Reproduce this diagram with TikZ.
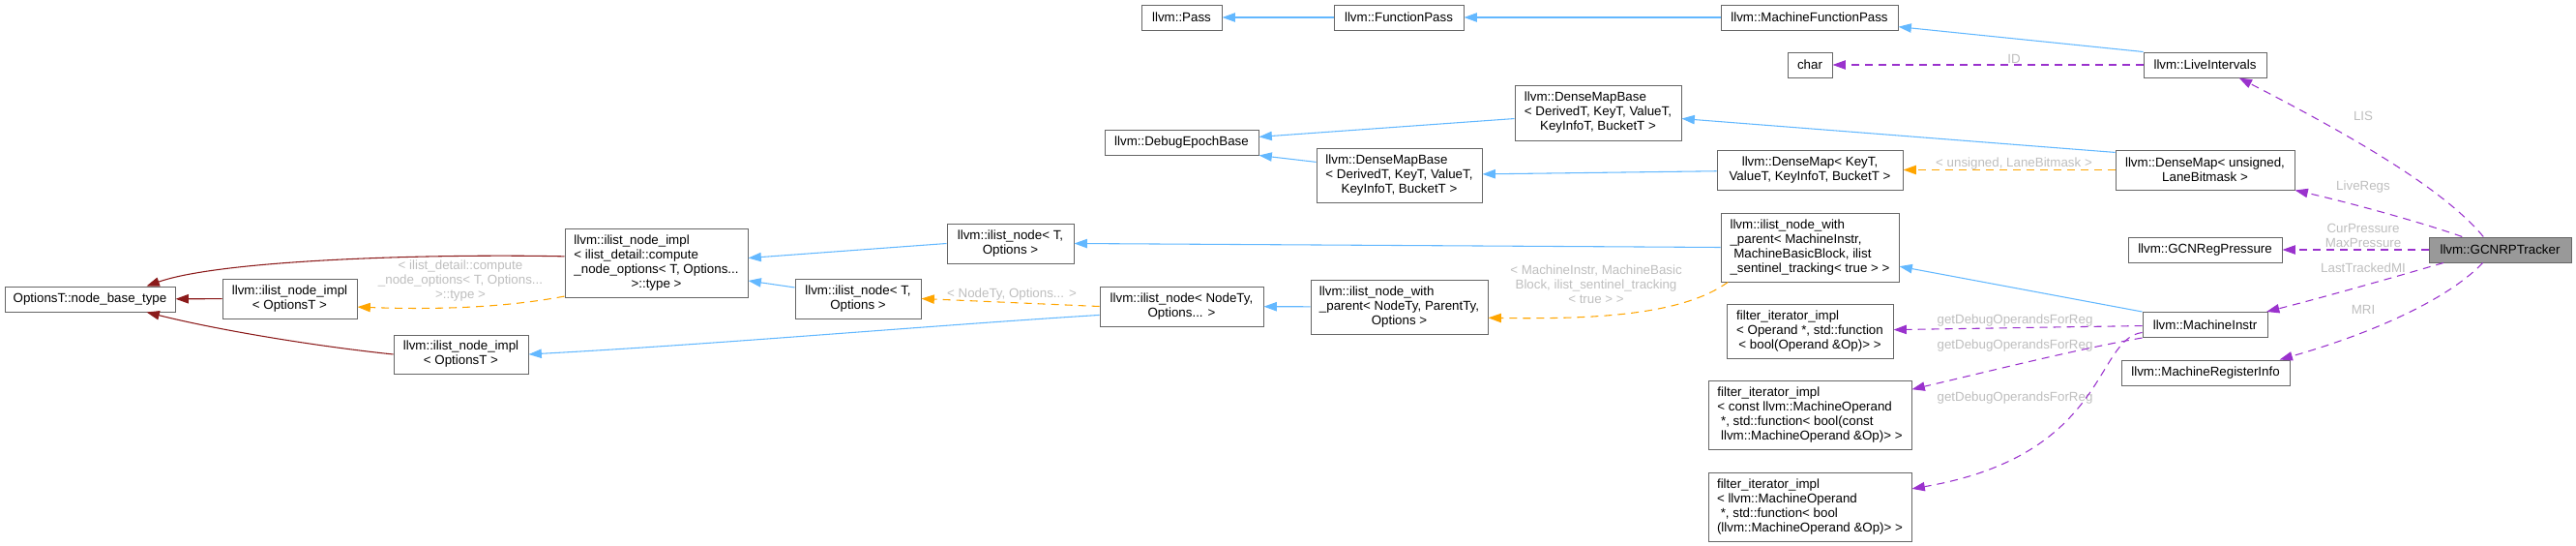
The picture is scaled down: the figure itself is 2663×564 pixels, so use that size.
\documentclass[tikz,border=0pt]{standalone}
\usepackage{fontspec}
\setmainfont{Liberation Sans}
\usetikzlibrary{arrows.meta}
\definecolor{blu}{HTML}{63B8FF}
\definecolor{brick}{HTML}{8B1A1A}
\definecolor{orng}{HTML}{FFA500}
\definecolor{orchid}{HTML}{9A32CD}
\definecolor{lblgray}{HTML}{BEBEBE}
\definecolor{boxgray}{HTML}{666666}
\definecolor{rootgray}{HTML}{999999}
% left lines, last line centred
\newcommand{\dlines}[2]{\begin{tabular}{@{}l@{}}#1\\\multicolumn{1}{@{}c@{}}{#2}\end{tabular}}

\begin{document}
\begin{tikzpicture}[x=0.75pt,y=-0.75pt,
  every node/.style={font=\fontsize{10}{11.25}\selectfont},
  cls/.style 2 args={draw=boxgray,fill=white,line width=0.75pt,inner sep=0pt,minimum width=#1*0.75pt,minimum height=#2*0.75pt},
  lbl/.style={text=lblgray,inner sep=0pt,align=center},
  pub/.style={blu,line width=0.8pt,-{Triangle[length=10pt,width=7pt]}},
  priv/.style={brick,line width=0.8pt,-{Triangle[length=10pt,width=7pt]}},
  tmpl/.style={orng,line width=0.8pt,dash pattern=on 6pt off 4.5pt,-{Triangle[length=10pt,width=7pt]}},
  uses/.style={orchid,line width=0.8pt,dash pattern=on 6pt off 4.5pt,-{Triangle[length=10pt,width=7pt]}}]
  \useasboundingbox (0,0) rectangle (2663,564);
  % column 1 to 4
  \node[cls={176}{26}] (base) at (93,309) {OptionsT::node\_base\_type};
  \node[cls={139}{41},align=center] (implA) at (299.5,308.5) {llvm::ilist\_node\_impl\\< OptionsT >};
  \node[cls={139}{40},align=center] (implB) at (476.5,366) {llvm::ilist\_node\_impl\\< OptionsT >};
  \node[cls={189}{71}] (implC) at (678.5,271.5) {\dlines{llvm::ilist\_node\_impl\\< ilist\_detail::compute\\\_node\_options< T, Options...}{>::type >}};
  \node[cls={130}{41},align=center] (nodeA) at (887,308.5) {llvm::ilist\_node< T,\\Options >};
  \node[cls={131}{41},align=center] (nodeB) at (1044.5,251.5) {llvm::ilist\_node< T,\\Options >};
  % middle columns
  \node[cls={83}{26}] (pass) at (1221.5,18) {llvm::Pass};
  \node[cls={159}{26}] (dbg) at (1221.5,147) {llvm::DebugEpochBase};
  \node[cls={169}{41},align=center] (nodeC) at (1221.5,316.5) {llvm::ilist\_node< NodeTy,\\Options... >};
  \node[cls={134}{26}] (fpass) at (1446,18) {llvm::FunctionPass};
  \node[cls={171}{56}] (dmbA) at (1446.5,181) {\dlines{llvm::DenseMapBase\\< DerivedT, KeyT, ValueT,}{KeyInfoT, BucketT >}};
  \node[cls={183}{56}] (parentA) at (1446.5,317) {\dlines{llvm::ilist\_node\_with\\\_parent< NodeTy, ParentTy,}{Options >}};
  \node[cls={172}{57}] (dmbB) at (1652,116.5) {\dlines{llvm::DenseMapBase\\< DerivedT, KeyT, ValueT,}{KeyInfoT, BucketT >}};
  % column of MachineFunctionPass
  \node[cls={183}{26}] (mfp) at (1870.5,18) {llvm::MachineFunctionPass};
  \node[cls={46}{26}] (chr) at (1871,67) {char};
  \node[cls={192}{41},align=center] (dmA) at (1871,175.5) {llvm::DenseMap< KeyT,\\ValueT, KeyInfoT, BucketT >};
  \node[cls={184}{71}] (parentB) at (1871,255.5) {\dlines{llvm::ilist\_node\_with\\\_parent< MachineInstr,\\\ MachineBasicBlock, ilist}{\_sentinel\_tracking< true > >}};
  \node[cls={172}{56}] (fltA) at (1871,342) {\dlines{filter\_iterator\_impl\\< Operand *, std::function}{< bool(Operand \&Op)> >}};
  \node[cls={210}{71}] (fltB) at (1871,428.5) {\dlines{filter\_iterator\_impl\\< const llvm::MachineOperand\\\ *, std::function< bool(const}{\ llvm::MachineOperand \&Op)> >}};
  \node[cls={210}{71}] (fltC) at (1871,523.5) {\dlines{filter\_iterator\_impl\\< llvm::MachineOperand\\\ *, std::function< bool}{(llvm::MachineOperand \&Op)> >}};
  % members of the tracker
  \node[cls={127}{26}] (lis) at (2279.5,67) {llvm::LiveIntervals};
  \node[cls={185}{41},align=center] (dmB) at (2279.5,175.5) {llvm::DenseMap< unsigned,\\LaneBitmask >};
  \node[cls={159}{26}] (rp) at (2279.5,258) {llvm::GCNRegPressure};
  \node[cls={129}{26}] (mi) at (2279.5,335.5) {llvm::MachineInstr};
  \node[cls={174}{26}] (mri) at (2280,385) {llvm::MachineRegisterInfo};
  \node[cls={147}{26},fill=rootgray] (trk) at (2584.5,258) {llvm::GCNRPTracker};
  % edge labels
  \node[lbl] (lblA) at (476,290) {< ilist\_detail::compute\\\_node\_options< T, Options...\\>::type >};
  \node[lbl] (lblB) at (1046,304) {< NodeTy, Options... >};
  \node[lbl] (lblC) at (1650,294) {< MachineInstr, MachineBasic\\Block, ilist\_sentinel\_tracking\\< true > >};
  \node[lbl] (lblD) at (2082,169) {< unsigned, LaneBitmask >};
  \node[lbl] (lblE) at (2082,61) {ID};
  \node[lbl] (lblF) at (2443,120) {LIS};
  \node[lbl] (lblG) at (2443,193) {LiveRegs};
  \node[lbl] (lblH) at (2443,243) {CurPressure\\MaxPressure};
  \node[lbl] (lblI) at (2443,277) {LastTrackedMI};
  \node[lbl] (lblJ) at (2443,320) {MRI};
  \node[lbl] (lblK) at (2083,331) {getDebugOperandsForReg};
  \node[lbl] (lblL) at (2083,357) {getDebugOperandsForReg};
  \node[lbl] (lblM) at (2083,411) {getDebugOperandsForReg};
  % inheritance
  \draw[priv] (implA) -- (base);
  \draw[priv] (implC.176) .. controls (450,262) and (230,268) .. (base.13);
  \draw[priv] (implB.west) .. controls (330,358) and (230,342) .. (base.-13);
  \draw[tmpl] (implC.-160) .. controls (520,318) and (450,320) .. (implA.-7);
  \draw[pub] (nodeB.west) -- (implC.3);
  \draw[pub] (nodeA.170) -- (implC.-11);
  \draw[pub] (nodeC.186) .. controls (950,337) and (750,355) .. (implB.east);
  \draw[tmpl] (nodeC.west) -- (nodeA.east);
  \draw[pub] (parentA) -- (nodeC);
  \draw[pub] (parentB.west) -- (nodeB.east);
  \draw[tmpl] (parentB.-157) .. controls (1740,325) and (1650,330) .. (parentA.-7);
  \draw[pub] (mi.north west) -- (parentB.-12);
  \draw[pub] (fpass) -- (pass);
  \draw[pub] (mfp) -- (fpass);
  \draw[pub] (lis.north west) -- (mfp.-6);
  \draw[pub] (dmbB.184) -- (dbg.4);
  \draw[pub] (dmbA.171) -- (dbg.south east);
  \draw[pub] (dmA) -- (dmbA);
  \draw[pub] (dmB.169) -- (dmbB.-4);
  \draw[tmpl] (dmB) -- (dmA);
  % usage
  \draw[uses] (lis) -- (chr);
  \draw[uses] (trk.142) .. controls (2530,200) and (2450,150) .. (lis.-21);
  \draw[uses] (trk.161) .. controls (2510,232) and (2440,212) .. (dmB.south east);
  \draw[uses] (trk) -- (rp);
  \draw[uses] (trk.-167) .. controls (2490,282) and (2410,305) .. (mi.12);
  \draw[uses] (trk.-143) .. controls (2530,310) and (2450,345) .. (mri.10);
  \draw[uses] (mi) -- (fltA);
  \draw[uses] (mi.south west) .. controls (2150,360) and (2050,385) .. (fltB.14);
  \draw[uses] (mi.-173) .. controls (2165,350) and (2180,470) .. (fltC.10);
\end{tikzpicture}
\end{document}
